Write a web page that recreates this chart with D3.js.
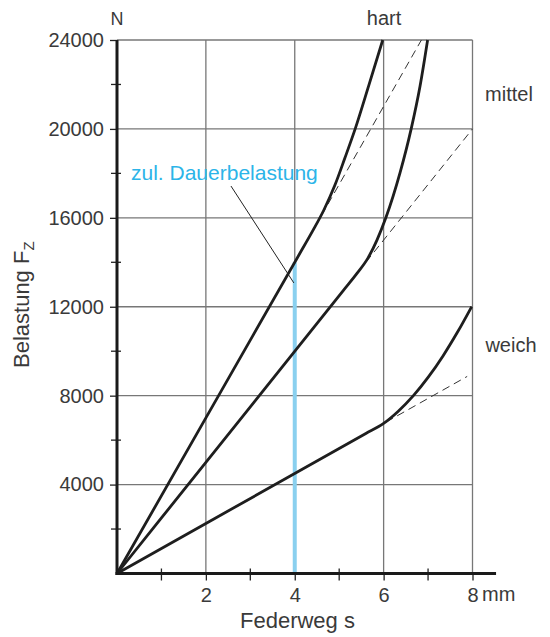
<!DOCTYPE html>
<html>
<head>
<meta charset="utf-8">
<script src="https://cdn.jsdelivr.net/npm/d3@7"></script>
<style>
  body { margin: 0; background: #fff; }
  svg { display: block; }
  text { font-family: "Liberation Sans", Arial, sans-serif; fill: #3a3a3a; }
</style>
</head>
<body>
<svg width="550" height="637"></svg>
<script>
// Federkennlinien: Federweg s (mm) gegen Belastung Fz (N)
const xTicks = [2, 4, 6, 8]
const xMinor = [1, 3, 5, 7]
const yTicks = [4000, 8000, 12000, 16000, 20000, 24000]
const yMinor = [2000, 6000, 10000, 14000, 18000, 22000]

const hart = [[0, 0], [2, 7000], [4.1, 14350], [4.4, 15400], [4.65, 16330], [4.9, 17450], [5.13, 18700], [5.36, 20000], [5.67, 21980], [5.98, 24000]]
const mittel = [[0, 0], [2, 5000], [5.1, 12750], [5.4, 13500], [5.65, 14200], [5.85, 15000], [6.05, 16000], [6.37, 18030], [6.62, 20000], [6.82, 21930], [6.99, 24000]]
const weich = [[0, 0], [2, 2250], [5.6, 6300], [6.0, 6750], [6.33, 7300], [6.67, 8000], [7.0, 8820], [7.34, 9800], [7.66, 10850], [7.98, 12000]]

const hartDash = [[4.6, 16100], [6.85, 24000]]
const mittelDash = [[5.6, 14000], [8, 20000]]
const weichDash = [[6.05, 6806], [7.88, 8865]]

const curveNames = ['hart', 'mittel', 'weich']
const dauerS = 4
const dauerF = 14000
const leader = [[2.565, 17430], [3.98, 13070]]

let svg = d3.select('svg')
let x = d3.scaleLinear().domain([0, 8]).range([117, 472.5])
let y = d3.scaleLinear().domain([0, 24000]).range([573.5, 40])

let line = d3.line().x(d => x(d[0])).y(d => y(d[1]))
let smooth = d3.line().x(d => x(d[0])).y(d => y(d[1])).curve(d3.curveMonotoneX)

// grid
let grid = svg.append('g').attr('stroke', '#777').attr('stroke-width', 1.3)
grid.selectAll('.v').data(xTicks).enter().append('line')
  .attr('x1', d => x(d)).attr('x2', d => x(d))
  .attr('y1', y(0)).attr('y2', y(24000))
grid.selectAll('.h').data(yTicks).enter().append('line')
  .attr('x1', x(0)).attr('x2', x(8))
  .attr('y1', d => y(d)).attr('y2', d => y(d))

// blue vertical (zul. Dauerbelastung)
svg.append('line')
  .attr('x1', x(dauerS)).attr('x2', x(dauerS))
  .attr('y1', y(0)).attr('y2', y(dauerF))
  .attr('stroke', '#8ad0ef').attr('stroke-width', 4)

// dashed extensions
svg.selectAll('.dash').data([hartDash, mittelDash, weichDash]).enter()
  .append('path')
  .attr('d', line)
  .attr('fill', 'none')
  .attr('stroke', '#333')
  .attr('stroke-width', 1)
  .attr('stroke-dasharray', '8,5')

// curves
svg.selectAll('.curve').data([hart, mittel, weich]).enter()
  .append('path')
  .attr('d', smooth)
  .attr('fill', 'none')
  .attr('stroke', '#1e1e1e')
  .attr('stroke-width', 2.8)

// leader line
svg.append('path').attr('d', line(leader))
  .attr('stroke', '#222').attr('stroke-width', 1).attr('fill', 'none')

// axes
let yAxis = svg.append('g')
  .attr('transform', `translate(${x(0)},0)`)
  .call(d3.axisLeft(y).tickValues(yTicks).tickSize(7).tickPadding(6).tickFormat(d3.format('d')))
let xAxis = svg.append('g')
  .attr('transform', `translate(0,${y(0)})`)
  .call(d3.axisBottom(x).tickValues(xTicks).tickSize(7).tickPadding(7).tickFormat(d3.format('d')))
;[yAxis, xAxis].forEach(a => {
  a.attr('font-family', null).attr('font-size', null)
  a.select('.domain').remove()
  a.selectAll('.tick line').attr('stroke', '#222').attr('stroke-width', 1.3)
  a.selectAll('.tick text').style('font-size', '20px').attr('fill', '#3a3a3a')
})

// minor ticks crossing axes
svg.append('g').selectAll('line').data(yMinor).enter().append('line')
  .attr('x1', x(0) - 6).attr('x2', x(0) + 4)
  .attr('y1', d => y(d)).attr('y2', d => y(d))
  .attr('stroke', '#222').attr('stroke-width', 1.3)
svg.append('g').selectAll('line').data(xMinor).enter().append('line')
  .attr('x1', d => x(d)).attr('x2', d => x(d))
  .attr('y1', y(0) - 5).attr('y2', y(0) + 7)
  .attr('stroke', '#222').attr('stroke-width', 1.3)

// main axis lines
svg.append('line').attr('x1', x(0)).attr('x2', x(0)).attr('y1', y(0) + 1.5).attr('y2', y(24000))
  .attr('stroke', '#1a1a1a').attr('stroke-width', 3)
svg.append('line').attr('x1', x(0) - 1.5).attr('x2', x(8.53)).attr('y1', y(0)).attr('y2', y(0))
  .attr('stroke', '#1a1a1a').attr('stroke-width', 3)

// labels
svg.append('text').text('N').attr('x', x(0)).attr('y', 25)
  .attr('text-anchor', 'middle').style('font-size', '18px')
svg.append('text').text('mm').attr('x', 482).attr('y', 601)
  .style('font-size', '20px')
svg.append('text').text('Federweg s').attr('x', 240).attr('y', 628)
  .style('font-size', '22px')
svg.append('text')
  .attr('transform', 'translate(29,368) rotate(-90)')
  .style('font-size', '22px')
  .text('Belastung F')
  .append('tspan').text('Z').attr('dy', 5).style('font-size', '15px')

svg.append('text').text('zul. Dauerbelastung').attr('x', 131).attr('y', 180)
  .style('font-size', '21px').style('fill', '#2cb4e8')

let labelPos = [[384, 25], [509, 101], [511, 352]]
svg.selectAll('.cname').data(curveNames).enter().append('text')
  .text(d => d)
  .attr('x', (d, i) => labelPos[i][0]).attr('y', (d, i) => labelPos[i][1])
  .attr('text-anchor', 'middle').style('font-size', '20px')
</script>
</body>
</html>
